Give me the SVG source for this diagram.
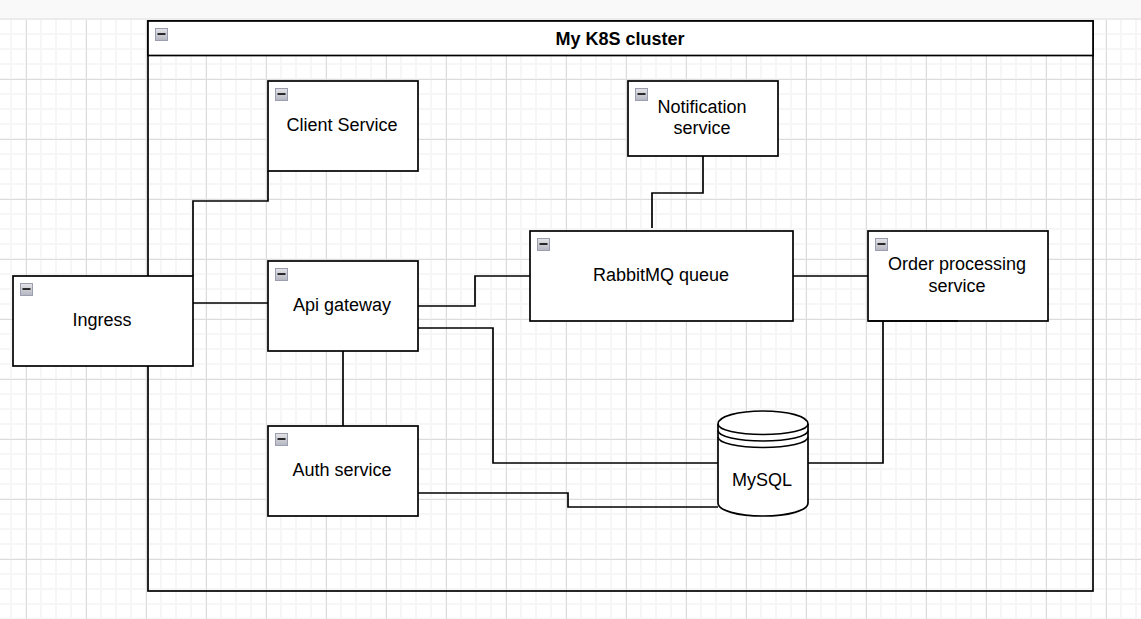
<svg xmlns="http://www.w3.org/2000/svg" width="1141" height="619" viewBox="0 0 1141 619">
<style>
.box{fill:#fff;stroke:#000;stroke-width:1.7}
.cn{fill:none;stroke:#000;stroke-width:1.7}
.t{font-family:"Liberation Sans",Arial,sans-serif;font-size:18px;fill:#000;text-anchor:middle}
.h{font-weight:bold}
</style>
<defs>
<linearGradient id="ig" x1="0" y1="0" x2="0" y2="1"><stop offset="0" stop-color="#e4e4e8"/><stop offset="1" stop-color="#b4b6c0"/></linearGradient>
<pattern id="minor" width="15" height="15" patternUnits="userSpaceOnUse" x="10" y="3">
<path d="M0 0H15V2H0ZM0 0H2V15H0Z" fill="#f6f6f6"/></pattern>
<pattern id="major" width="60" height="60" patternUnits="userSpaceOnUse" x="26" y="19">
<path d="M0 0.5H60M0.5 0V60" fill="none" stroke="#dcdcdc" stroke-width="1"/></pattern>
<g id="ic"><rect x="0.500" y="0.500" width="12" height="12" fill="url(#ig)" stroke="#9a9eae"/><rect x="2.500" y="5.200" width="8" height="1.600" fill="#000"/></g>
</defs>
<rect width="1141" height="619" fill="#fff"/>
<rect y="20" width="1141" height="599" fill="url(#minor)"/>
<rect y="20" width="1141" height="599" fill="url(#major)"/>
<rect width="1141" height="18" fill="#f9f9f9"/>
<rect y="18" width="1141" height="2" fill="#ececec"/>
<g id="cluster">
<rect x="148" y="21" width="945" height="570" fill="none" stroke="#000" stroke-width="1.700"/>
<rect class="box" x="148" y="21" width="945" height="34.500"/>
<use href="#ic" x="155" y="28"/>
<text class="t h" x="620" y="45">My K8S cluster</text>
</g>
<g id="connectors">
<path class="cn" d="M193 276V201H268V171"/>
<path class="cn" d="M193 303H268"/>
<path class="cn" d="M418 306H475V276H530"/>
<path class="cn" d="M418 328H493V463H718"/>
<path class="cn" d="M343 351V426"/>
<path class="cn" d="M418 493H568V507H718"/>
<path class="cn" d="M793 276H868"/>
<path class="cn" d="M703 156V193H652V228"/>
<path class="cn" d="M808 463H883V321"/>
</g>
<g id="ingress"><rect class="box" x="13" y="276" width="180" height="90"/><use href="#ic" x="20" y="283"/><text class="t" x="102" y="326">Ingress</text></g>
<g id="client-service"><rect class="box" x="268" y="81" width="150" height="90"/><use href="#ic" x="275" y="88"/><text class="t" x="342" y="131">Client Service</text></g>
<g id="notification-service"><rect class="box" x="628" y="81" width="150" height="75"/><use href="#ic" x="635" y="88"/><text class="t" x="702" y="113">Notification</text><text class="t" x="702" y="134">service</text></g>
<g id="rabbitmq-queue"><rect class="box" x="530" y="231" width="263" height="90"/><use href="#ic" x="537" y="238"/><text class="t" x="661" y="281">RabbitMQ queue</text></g>
<g id="order-processing"><rect class="box" x="868" y="231" width="180" height="90"/><use href="#ic" x="875" y="238"/><text class="t" x="957" y="270">Order processing</text><text class="t" x="957" y="292">service</text><path class="cn" d="M868 321H958"/></g>
<g id="api-gateway"><rect class="box" x="268" y="261" width="150" height="90"/><use href="#ic" x="275" y="268"/><text class="t" x="342" y="311">Api gateway</text></g>
<g id="auth-service"><rect class="box" x="268" y="426" width="150" height="90"/><use href="#ic" x="275" y="433"/><text class="t" x="342" y="476">Auth service</text></g>
<g id="mysql">
<path class="box" d="M718 424C718 416.500 738 411 763 411S808 416.500 808 424V503C808 510.500 788 516 763 516S718 510.500 718 503Z"/>
<path class="cn" d="M718 424C718 430 738 434.500 763 434.500S808 430 808 424M718 430.500C718 436.500 738 441 763 441S808 436.500 808 430.500M718 437C718 443 738 447.500 763 447.500S808 443 808 437"/>
<text class="t" x="762" y="486">MySQL</text>
</g>
</svg>
